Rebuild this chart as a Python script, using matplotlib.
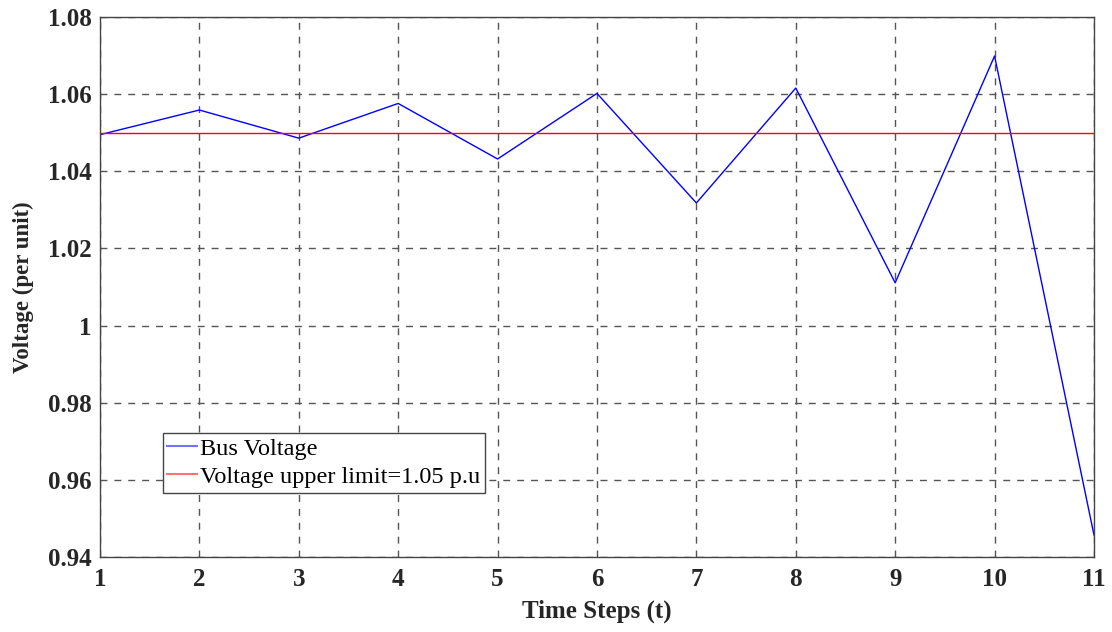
import numpy as np
import matplotlib.pyplot as plt

# data
time_steps = [1, 2, 3, 4, 5, 6, 7, 8, 9, 10, 11]
bus_voltage = [1.0495, 1.0559, 1.0486, 1.0576, 1.0432, 1.0602, 1.0318, 1.0616, 1.0111, 1.0699, 0.9457]
upper_limit = 1.05
xticks = list(range(1, 12))
yticks = [0.94, 0.96, 0.98, 1.0, 1.02, 1.04, 1.06, 1.08]
yticklabels = ['0.94', '0.96', '0.98', '1', '1.02', '1.04', '1.06', '1.08']

plt.rcParams['font.family'] = ['Liberation Serif', 'DejaVu Serif']

fig = plt.figure(figsize=(11.12, 6.32), dpi=100)
ax = fig.add_axes([0.0899, 0.1187, 0.8939, 0.8543])

ax.plot(time_steps, bus_voltage, color='#0000ff', lw=1.0, label='Bus Voltage')
ax.plot([time_steps[0], time_steps[-1]], [upper_limit, upper_limit], color='#ff0000', lw=1.0,
        label='Voltage upper limit=1.05 p.u')

ax.set_xlim(1, 11)
ax.set_ylim(0.94, 1.08)
ax.set_xticks(xticks)
ax.set_yticks(yticks)
ax.set_yticklabels(yticklabels)
for lab in ax.get_xticklabels() + ax.get_yticklabels():
    lab.set_fontweight('bold')
    lab.set_fontsize(18)
    lab.set_color('#262626')
ax.tick_params(direction='in', length=0)
ax.tick_params(axis='x', pad=8)
ax.tick_params(axis='y', pad=6)

ax.grid(True, ls=(0, (5, 5)), color='#555555', lw=1.0)
for s in ax.spines.values():
    s.set_color('#444444')
    s.set_linewidth(1.0)

ax.set_xlabel('Time Steps (t)', fontsize=18, fontweight='bold', color='#262626', labelpad=6)
ax.set_ylabel('Voltage (per unit)', fontsize=16.5, fontweight='bold', color='#262626', labelpad=10)

leg = ax.legend(loc='lower left', bbox_to_anchor=(0.063, 0.119), fontsize=17.5, frameon=True,
                fancybox=False, framealpha=1, edgecolor='#444444', handlelength=1.2,
                handletextpad=0.15, borderpad=0.2, labelspacing=0.25, borderaxespad=0)
leg.get_frame().set_linewidth(1.0)
for line in leg.get_lines():
    line.set_alpha(0.55)
    line.set_linewidth(1.5)

fig.savefig('out.png', dpi=100)
